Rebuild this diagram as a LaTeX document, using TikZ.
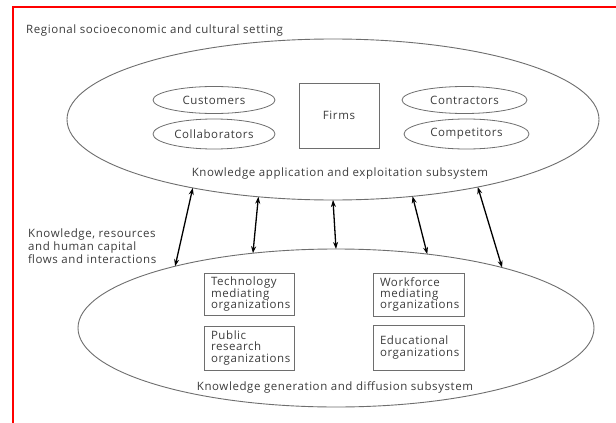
\documentclass[tikz,border=0pt]{standalone}
\usepackage{fontspec}
\setmainfont{Open Sans}[LetterSpace=5]
\usetikzlibrary{shapes.geometric,arrows.meta}
\definecolor{ink}{HTML}{3C3C3C}
\definecolor{rim}{HTML}{6E6E6E}
\definecolor{frame}{HTML}{FF0000}

\begin{document}
\begin{tikzpicture}[x=1pt,y=-1pt,
  txt/.style={font=\fontsize{11.5}{11.3}\selectfont, text=ink},
  bigoval/.style={draw=rim, line width=0.9pt, ellipse, inner sep=0pt, outer sep=0pt},
  smalloval/.style={draw=rim, line width=0.8pt, ellipse, inner sep=0pt,
    minimum width=122pt, minimum height=28pt, txt},
  orgbox/.style={draw=rim, line width=0.8pt, rectangle, inner xsep=7pt, inner ysep=0pt,
    text width=76pt, align=left, minimum height=43pt, txt},
  flow/.style={draw=black, line width=1.3pt,
    {Stealth[length=7pt,width=5pt]}-{Stealth[length=7pt,width=5pt]}}
]
\useasboundingbox (0,0) rectangle (616,423);
\fill[white] (0,0) rectangle (616,423);

% page frame (top and left edges)
\draw[frame, line width=2pt] (12.5,423) -- (12.5,6.5) -- (616,6.5);

% setting caption
\node[txt, anchor=west, inner sep=0pt] (setting) at (26,31)
  {Regional socioeconomic and cultural setting};

% the two subsystems
\node[bigoval, minimum width=532pt, minimum height=161pt] (apply) at (333,119.5) {};
\node[bigoval, minimum width=516pt, minimum height=158pt] (gen) at (336,328) {};

% application subsystem members
\node[smalloval, minimum height=27pt] (customers) at (214,100) {Customers};
\node[smalloval, minimum height=30pt] (collab) at (214,134) {Collaborators};
\node[draw=rim, line width=0.8pt, minimum width=80pt, minimum height=65pt, txt] (firms) at (339,115.5) {Firms};
\node[smalloval, minimum width=125pt, minimum height=27pt] (contract) at (464.5,100) {Contractors};
\node[smalloval, minimum width=125pt, minimum height=30pt] (compet) at (466.5,134) {Competitors};
\node[txt, inner sep=0pt] (applylabel) at (340,174)
  {Knowledge application and exploitation subsystem};

% generation subsystem members
\node[orgbox, minimum height=42pt] (tech) at (249,294) {Technology\\mediating\\organizations};
\node[orgbox, minimum height=44pt] (public) at (249,348) {Public\\research\\organizations};
\node[orgbox, text width=77pt, minimum height=43pt] (work) at (418.5,294.5) {Workforce\\mediating\\organizations};
\node[orgbox, text width=77pt, minimum height=45pt] (edu) at (418.5,347.5) {Educational\\organizations};
\node[txt, inner sep=0pt] (genlabel) at (335,387)
  {Knowledge generation and diffusion subsystem};

% flows between the subsystems
\node[txt, font=\fontsize{11.5}{12.7}\selectfont, align=left, anchor=west, inner sep=0pt]
  (flowlabel) at (28,246) {Knowledge, resources\\and human capital\\flows and interactions};
\draw[flow] (apply.206.8) -- (gen.159.4);
\draw[flow] (apply.226.1) -- (gen.138.7);
\draw[flow] (apply.270) -- (gen.90);
\draw[flow] (apply.316.5) -- (gen.39.8);
\draw[flow] (apply.335.4) -- (gen.20.8);
\end{tikzpicture}
\end{document}
